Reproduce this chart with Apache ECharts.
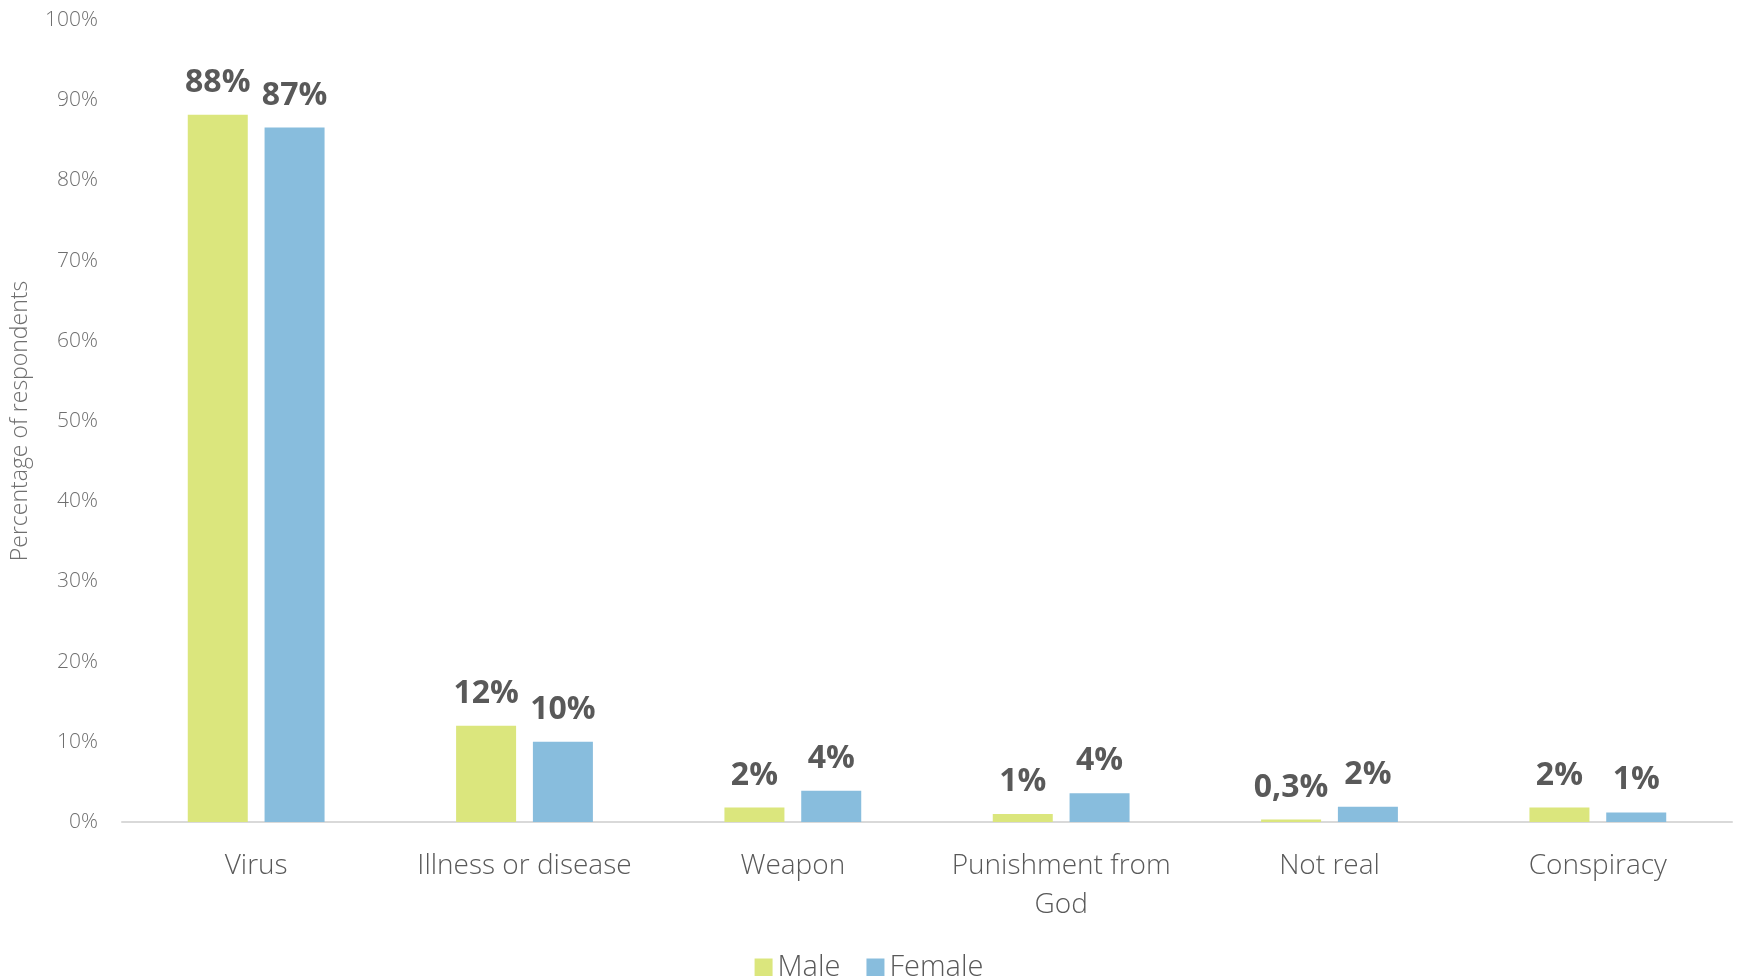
<!DOCTYPE html>
<html>
<head>
<meta charset="utf-8">
<script src="https://cdn.jsdelivr.net/npm/echarts@6/dist/echarts.min.js"></script>
<style>
html,body{margin:0;padding:0;background:#fff;}
#chart{width:1738px;height:976px;}
</style>
</head>
<body>
<div id="chart"></div>
<script>
const categories = ['Virus', 'Illness or disease', 'Weapon', 'Punishment from\nGod', 'Not real', 'Conspiracy'];
const maleValues = [88.2, 12.0, 1.8, 1.0, 0.3, 1.8];
const femaleValues = [86.6, 10.0, 3.9, 3.6, 1.9, 1.2];
const maleLabels = ['88%', '12%', '2%', '1%', '0,3%', '2%'];
const femaleLabels = ['87%', '10%', '4%', '4%', '2%', '1%'];
const yTicks = [0, 10, 20, 30, 40, 50, 60, 70, 80, 90, 100];

const chart = echarts.init(document.getElementById('chart'));
const labelStyle = {
  show: true,
  position: 'top',
  distance: 16,
  fontFamily: 'Open Sans',
  fontWeight: 'bold',
  fontSize: 32,
  color: '#595959'
};
chart.setOption({
  animation: false,
  backgroundColor: '#ffffff',
  textStyle: { fontFamily: 'Open Sans' },
  grid: { left: 122, right: 6, top: 20, bottom: 154, containLabel: false },
  legend: {
    bottom: -11,
    left: 'center',
    itemWidth: 18,
    itemHeight: 18,
    itemGap: 26,
    icon: 'rect',
    textStyle: { fontFamily: 'Open Sans', fontSize: 29, color: '#595959', fontWeight: 300 },
    data: ['Male', 'Female']
  },
  xAxis: {
    type: 'category',
    data: categories,
    axisLine: { show: true, lineStyle: { color: '#d9d9d9', width: 2 } },
    axisTick: { show: false },
    axisLabel: {
      margin: 25,
      fontFamily: 'Open Sans',
      fontSize: 28,
      fontWeight: 300,
      color: '#595959',
      lineHeight: 39,
      interval: 0
    }
  },
  yAxis: {
    type: 'value',
    min: yTicks[0],
    max: yTicks[yTicks.length - 1],
    interval: 10,
    name: 'Percentage of respondents',
    nameLocation: 'middle',
    nameGap: 90,
    nameRotate: 90,
    nameTextStyle: { fontFamily: 'Open Sans', fontSize: 23, fontWeight: 300, color: '#6f6f6f' },
    axisLine: { show: false },
    axisTick: { show: false },
    splitLine: { show: false },
    axisLabel: {
      formatter: '{value}%',
      margin: 24,
      fontFamily: 'Open Sans',
      fontSize: 21,
      fontWeight: 300,
      color: '#6f6f6f'
    }
  },
  series: [
    {
      name: 'Male',
      type: 'bar',
      data: maleValues,
      barWidth: 60,
      barGap: '28%',
      itemStyle: { color: '#dbe67d' },
      label: Object.assign({}, labelStyle, {
        formatter: p => maleLabels[p.dataIndex]
      })
    },
    {
      name: 'Female',
      type: 'bar',
      data: femaleValues,
      barWidth: 60,
      itemStyle: { color: '#88bddd' },
      label: Object.assign({}, labelStyle, {
        formatter: p => femaleLabels[p.dataIndex]
      })
    }
  ]
});
</script>
</body>
</html>
